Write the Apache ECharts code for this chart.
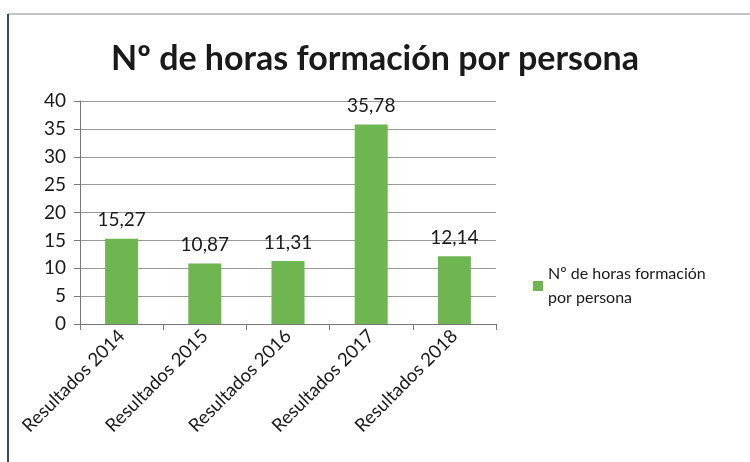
<!DOCTYPE html>
<html>
<head>
<meta charset="utf-8">
<script src="https://cdn.jsdelivr.net/npm/echarts@6/dist/echarts.min.js"></script>
<style>
  html, body { margin: 0; padding: 0; background: #fff; }
  #chart { width: 750px; height: 462px; }
</style>
</head>
<body>
<div id="chart"></div>
<script>
const categories = ["Resultados 2014", "Resultados 2015", "Resultados 2016", "Resultados 2017", "Resultados 2018"];
const horas = [15.27, 10.87, 11.31, 35.78, 12.14];
const seriesName = "Nº de horas formación por persona";

const chart = echarts.init(document.getElementById("chart"));

chart.setOption({
    animation: false,
    textStyle: { fontFamily: "Lato" },
    title: {
        text: "Nº de horas formación por persona",
        left: "center",
        top: 37,
        textStyle: { fontFamily: "Lato", fontSize: 34, fontWeight: "bold", color: "#1a1a1a" }
    },
    legend: {
        orient: "vertical",
        left: 528,
        top: 257,
        icon: "rect",
        itemWidth: 10,
        itemHeight: 10,
        itemGap: 4,
        formatter: () => "Nº de horas formación\npor persona",
        textStyle: { fontSize: 16, color: "#1a1a1a", lineHeight: 24 }
    },
    graphic: [
        { type: "line", shape: { x1: 8, y1: 14, x2: 750, y2: 14 }, style: { stroke: "#888", lineWidth: 1 } },
        { type: "line", shape: { x1: 8, y1: 14, x2: 8, y2: 462 }, style: { stroke: "#3a4a66", lineWidth: 2 } }
    ],
    grid: { left: 80, top: 101, width: 416, height: 223 },
    xAxis: {
        type: "category",
        data: categories,
        axisLine: { lineStyle: { color: "#777" } },
        axisTick: { show: true, length: 6, lineStyle: { color: "#777" } },
        axisLabel: { rotate: 45, fontSize: 18.5, color: "#1a1a1a", margin: 9 }
    },
    yAxis: {
        type: "value",
        min: 0,
        max: 40,
        interval: 5,
        axisLine: { show: true, lineStyle: { color: "#777" } },
        axisTick: { show: true, length: 6, lineStyle: { color: "#777" } },
        axisLabel: { fontSize: 19, color: "#1a1a1a", margin: 14 },
        splitLine: { lineStyle: { color: "#999", width: 1 } }
    },
    series: [{
        name: seriesName,
        type: "bar",
        data: horas,
        barWidth: 33,
        itemStyle: { color: "#6db650" },
        label: {
            show: true,
            position: "top",
            distance: 9,
            fontSize: 19,
            color: "#1a1a1a",
            formatter: p => p.value.toFixed(2).replace(".", ",")
        }
    }]
});
</script>
</body>
</html>
